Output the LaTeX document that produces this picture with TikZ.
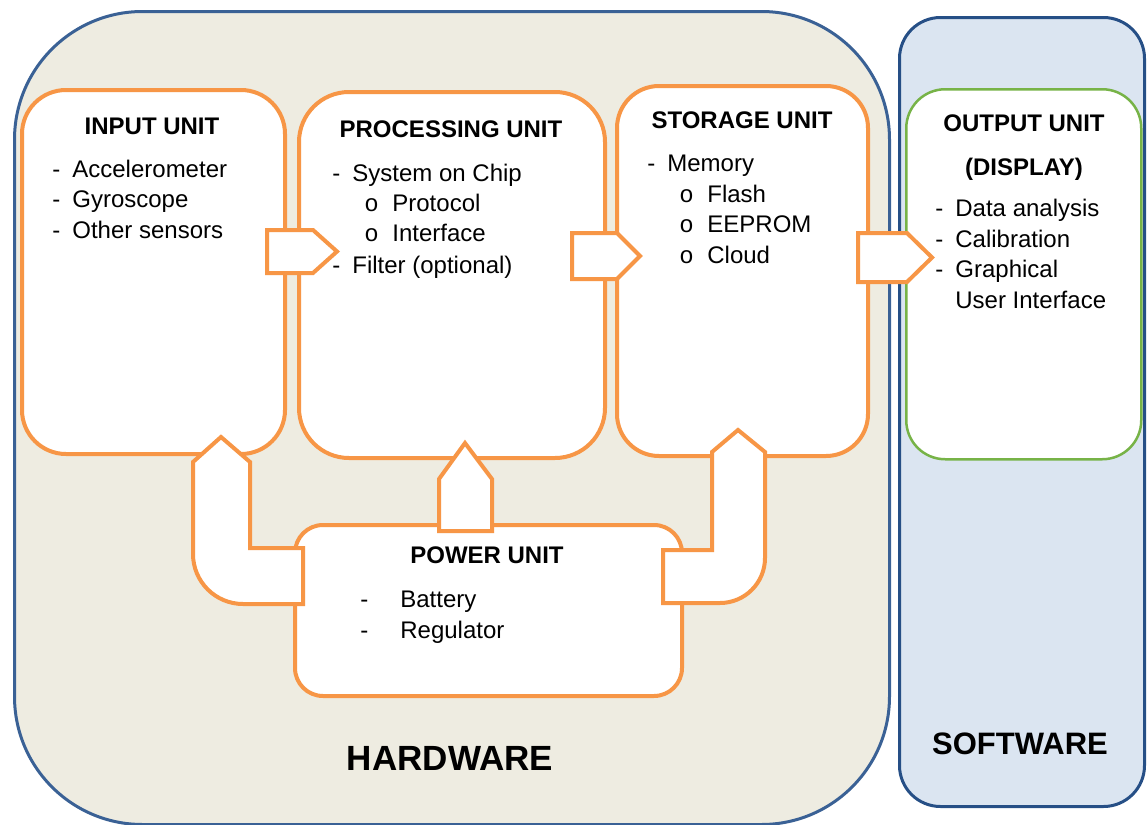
\documentclass[tikz,border=0pt]{standalone}
\usepackage{fontspec}
\setmainfont{Liberation Sans}
\newfontfamily\bulletfont{Liberation Mono}
\definecolor{hwfill}{HTML}{EEECE1}
\definecolor{swfill}{HTML}{DBE5F1}
\definecolor{hwline}{HTML}{3A6195}
\definecolor{swline}{HTML}{264F86}
\definecolor{unitline}{HTML}{F79646}
\definecolor{greenline}{HTML}{77B347}
% list lines: dash or circle hanging to the left of the text start
\newcommand\dashitem[2][10pt]{\llap{\makebox[#1][l]{-}}#2}
\newcommand\circitem[1]{\llap{\makebox[14pt][l]{\bulletfont o}}#1}
\begin{document}
\begin{tikzpicture}[x=0.5pt,y=-0.5pt,
  panel/.style={anchor=north west, inner sep=0pt, line width=1.5pt},
  unitbox/.style={anchor=north west, inner sep=0pt, draw=unitline, line width=2pt, fill=white},
  blockarrow/.style={draw=unitline, line width=2pt, fill=white},
  title/.style={anchor=base, inner sep=0pt, font=\bfseries\fontsize{12}{14}\selectfont},
  item/.style={anchor=base west, inner sep=0pt, font=\fontsize{12}{14}\selectfont},
  biglabel/.style={anchor=base, inner sep=0pt, font=\bfseries}]
\useasboundingbox (0,0) rectangle (1147,825);

% hardware and software panels
\node[panel, draw=hwline, fill=hwfill, rounded corners=64pt,
      minimum width=437.5pt, minimum height=406.5pt] (hw) at (13,10) {};
\node[panel, draw=swline, fill=swfill, rounded corners=20.5pt,
      minimum width=122.5pt, minimum height=394.5pt] (sw) at (898,16) {};

% unit boxes
\node[unitbox, rounded corners=22pt, minimum width=131.5pt, minimum height=182pt] (in) at (20,88) {};
\node[unitbox, rounded corners=25pt, minimum width=153pt, minimum height=183pt] (proc) at (297,90) {};
\node[unitbox, rounded corners=21pt, minimum width=125.5pt, minimum height=185pt] (stor) at (615,84) {};
\node[unitbox, draw=greenline, line width=1.25pt, rounded corners=19.5pt,
      minimum width=117.5pt, minimum height=185pt] (out) at (905,88) {};
\node[unitbox, rounded corners=14pt, minimum width=193.5pt, minimum height=85.5pt] (pow) at (293,523) {};

% block arrows between the units
\draw[blockarrow] (267,230) -- (313,230) -- (337,251.5) -- (313,273) -- (267,273) -- cycle;
\draw[blockarrow] (572,233) -- (617,233) -- (640,256) -- (617,279) -- (572,279) -- cycle;
\draw[blockarrow] (858,233) -- (907,233) -- (932,257.5) -- (907,282) -- (858,282) -- cycle;
\draw[blockarrow] (439,531) -- (439,479) -- (465,443) -- (492,479) -- (492,531) -- cycle;
\draw[blockarrow] (221,437) -- (250,462) -- (250,548) -- (303,548) -- (303,604) -- (243,604)
   arc[start angle=90, end angle=180, radius=50] -- (193,462) -- cycle;
\draw[blockarrow] (738,430) -- (765,452) -- (765,558)
   arc[start angle=0, end angle=90, radius=45] -- (663,603) -- (663,550) -- (712,550) -- (712,452) -- cycle;

% input unit
\node[title] (inT) at (152,134) {INPUT UNIT};
\node[item] (in1) at (72,177) {\dashitem{Accelerometer}};
\node[item] (in2) at (72,207) {\dashitem{Gyroscope}};
\node[item] (in3) at (72,238) {\dashitem{Other sensors}};

% processing unit
\node[title] (procT) at (451,137) {PROCESSING UNIT};
\node[item] (proc1) at (352,181) {\dashitem{System on Chip}};
\node[item] (proc2) at (392,211) {\circitem{Protocol}};
\node[item] (proc3) at (392,241) {\circitem{Interface}};
\node[item] (proc4) at (352,273) {\dashitem{Filter (optional)}};

% storage unit
\node[title] (storT) at (742,128) {STORAGE UNIT};
\node[item] (stor1) at (667,171) {\dashitem{Memory}};
\node[item] (stor2) at (707,202) {\circitem{Flash}};
\node[item] (stor3) at (707,232) {\circitem{EEPROM}};
\node[item] (stor4) at (707,263) {\circitem{Cloud}};

% output unit
\node[title] (outT) at (1024,131) {OUTPUT UNIT};
\node[title] (outT2) at (1024,175) {(DISPLAY)};
\node[item] (out1) at (955,216) {\dashitem{Data analysis}};
\node[item] (out2) at (955,247) {\dashitem{Calibration}};
\node[item] (out3) at (955,277) {\dashitem{Graphical}};
\node[item] (out4) at (955,308) {User Interface};

% power unit
\node[title] (powT) at (487,563) {POWER UNIT};
\node[item] (pow1) at (400,607) {\dashitem[20pt]{Battery}};
\node[item] (pow2) at (400,638) {\dashitem[20pt]{Regulator}};

% panel labels
\node[biglabel, font=\bfseries\fontsize{17.5}{20}\selectfont] (hwT) at (450,770) {HARDWARE};
\node[biglabel, font=\bfseries\fontsize{15.5}{18}\selectfont] (swT) at (1020,754) {SOFTWARE};
\end{tikzpicture}
\end{document}
